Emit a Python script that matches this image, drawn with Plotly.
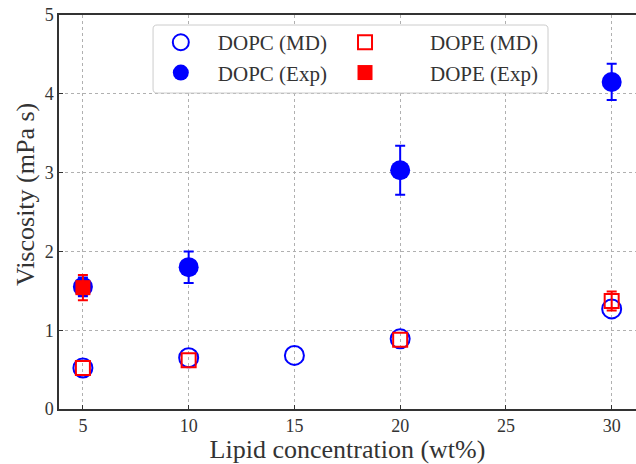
import plotly.graph_objects as go

conc_dopc_md = [5, 10, 15, 20, 30]
visc_dopc_md = [0.52, 0.65, 0.68, 0.89, 1.27]

conc_dope_md = [5, 10, 20, 30]
visc_dope_md = [0.52, 0.62, 0.88, 1.37]
err_dope_md = [None, None, None, 0.12]

conc_dopc_exp = [5, 10, 20, 30]
visc_dopc_exp = [1.55, 1.80, 3.03, 4.15]
err_dopc_exp = [0.12, 0.20, 0.31, 0.23]

conc_dope_exp = [5]
visc_dope_exp = [1.54]
err_dope_exp = [0.16]

BLUE = "#0000ff"
RED = "#ff0000"
FONT = "'Liberation Serif', 'DejaVu Serif', serif"
TXT = "#333333"

fig = go.Figure()
fig.add_trace(go.Scatter(
    x=conc_dopc_md, y=visc_dopc_md, mode="markers", name="DOPC (MD)", legend="legend",
    marker=dict(symbol="circle-open", size=19, color=BLUE, line=dict(width=2, color=BLUE)),
))
# error bars for DOPE (MD) only where an error exists
idx = [i for i, e in enumerate(err_dope_md) if e is not None]
fig.add_trace(go.Scatter(
    x=[conc_dope_md[i] for i in idx], y=[visc_dope_md[i] for i in idx],
    mode="markers", showlegend=False, hoverinfo="skip",
    marker=dict(size=1, color="rgba(0,0,0,0)"),
    error_y=dict(type="data", array=[err_dope_md[i] for i in idx], color=RED, thickness=2, width=5),
))
fig.add_trace(go.Scatter(
    x=conc_dope_md, y=visc_dope_md, mode="markers", name="DOPE (MD)", legend="legend2",
    marker=dict(symbol="square-open", size=14, color=RED, line=dict(width=2, color=RED)),
))
fig.add_trace(go.Scatter(
    x=conc_dopc_exp, y=visc_dopc_exp, mode="markers", name="DOPC (Exp)", legend="legend",
    marker=dict(symbol="circle", size=20, color=BLUE),
    error_y=dict(type="data", array=err_dopc_exp, color=BLUE, thickness=2, width=5),
))
fig.add_trace(go.Scatter(
    x=conc_dope_exp, y=visc_dope_exp, mode="markers", name="DOPE (Exp)", legend="legend2",
    marker=dict(symbol="square", size=15, color=RED),
    error_y=dict(type="data", array=err_dope_exp, color=RED, thickness=2, width=5),
))

leg_common = dict(
    orientation="v", xanchor="left", yanchor="top",
    bgcolor="rgba(0,0,0,0)", borderwidth=0,
    font=dict(family=FONT, size=21, color=TXT), traceorder="normal",
)

# rounded legend frame (paper coords)
bx0, bx1, by0, by1 = 0.163, 0.8475, 0.802, 0.9746
rx, ry = 0.007, 0.010
frame = (f"M {bx0+rx},{by1} L {bx1-rx},{by1} Q {bx1},{by1} {bx1},{by1-ry} "
         f"L {bx1},{by0+ry} Q {bx1},{by0} {bx1-rx},{by0} L {bx0+rx},{by0} "
         f"Q {bx0},{by0} {bx0},{by0+ry} L {bx0},{by1-ry} Q {bx0},{by1} {bx0+rx},{by1} Z")

fig.update_layout(
    width=636, height=464,
    margin=dict(l=59, r=0, t=15, b=55),
    plot_bgcolor="white", paper_bgcolor="white",
    font=dict(family=FONT, size=18, color=TXT),
    legend=dict(x=0.147, y=0.982, itemwidth=64, **leg_common),
    legend2=dict(x=0.4177, y=0.982, itemwidth=120, **leg_common),
    shapes=[dict(
        type="path", xref="paper", yref="paper", layer="above", path=frame,
        line=dict(color="#cccccc", width=1), fillcolor="white",
    )],
    annotations=[dict(
        text="Viscosity (mPa s)", textangle=-90, xref="paper", yref="paper",
        x=-0.0589, y=0.543, xanchor="center", yanchor="middle", showarrow=False,
        font=dict(family=FONT, size=26, color=TXT),
    )],
    xaxis=dict(
        range=[3.87, 31.15], tickvals=[5, 10, 15, 20, 25, 30],
        showgrid=True, gridcolor="#b0b0b0", griddash="dot", gridwidth=1,
        showline=True, linecolor=TXT, linewidth=1.5, mirror=True,
        ticks="inside", ticklen=4, tickcolor=TXT,
        zeroline=False,
        title=dict(text="Lipid concentration (wt%)", font=dict(family=FONT, size=26, color=TXT), standoff=6),
    ),
    yaxis=dict(
        range=[0, 5], tickvals=[0, 1, 2, 3, 4, 5],
        showgrid=True, gridcolor="#b0b0b0", griddash="dot", gridwidth=1,
        showline=True, linecolor=TXT, linewidth=1.5,
        ticks="inside", ticklen=4, tickcolor=TXT,
        zeroline=False,
    ),
)

fig.write_html("out.html")
